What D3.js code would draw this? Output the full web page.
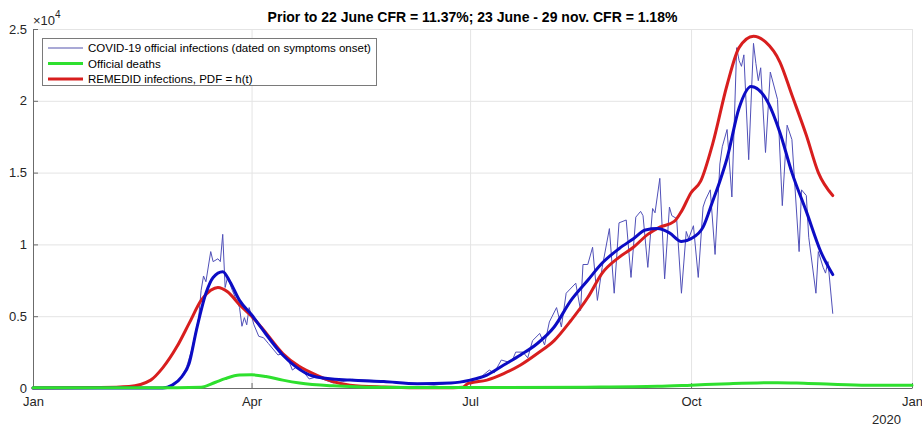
<!DOCTYPE html>
<html>
<head>
<meta charset="utf-8">
<script src="https://cdn.jsdelivr.net/npm/d3@7"></script>
<style>
  body { margin: 0; background: #fff; }
  svg { display: block; font-family: "Liberation Sans", Arial, sans-serif; }
</style>
</head>
<body>
<figure id="chart" style="margin:0"></figure>
<script>
// ---- data (day = days since 1 Jan 2020) ----
const tickDays = [0, 91, 182, 274, 366];
const tickLabels = ["Jan", "Apr", "Jul", "Oct", "Jan"];
const yTicks = [0, 5000, 10000, 15000, 20000, 25000];
const yTickLabels = ["0", "0.5", "1", "1.5", "2", "2.5"];

// COVID-19 official infections (daily, thin line)
const infDays = [52, 55, 58, 61, 64, 66, 69, 70, 71, 72, 74, 75, 77, 78, 79, 80, 81, 83, 86, 87, 88, 89, 90, 92, 94, 96, 98,
  102, 104, 106, 108, 110, 112, 115, 118, 125, 129, 133, 139, 146, 148, 153, 160, 167, 174, 179, 182, 186, 190, 192, 195,
  198, 200, 201, 204, 206, 208, 211, 213, 215, 218, 220, 222, 226, 228, 229, 231, 233, 235, 237, 240, 242, 244, 247, 249,
  251, 253, 254, 256, 258, 259, 261, 263, 265, 266, 268, 270, 272, 273, 275, 277, 279, 280, 282, 284, 286, 287, 289, 291,
  293, 294, 295, 296, 298, 300, 301, 302, 303, 305, 307, 310, 312, 314, 316, 319, 320, 322, 323, 326, 327, 329, 330, 331, 333];
const infValues = [0, 50, 200, 500, 1500, 2600, 4900, 6800, 7800, 7400, 9500, 8800, 9000, 8800, 10700, 7000, 7700, 6800, 5600, 4300, 4900, 4400, 5600, 4400, 3600, 3500, 3100,
  2300, 2400, 2100, 1250, 1500, 1250, 630, 770, 350, 450, 600, 550, 500, 400, 350, 300, 200, 350, 400, 550, 700, 1250, 1050, 1950,
  1800, 2100, 2500, 2500, 2100, 3300, 3800, 3000, 4600, 5600, 4250, 6600, 7300, 5400, 8600, 8600, 9800, 6100, 8400, 11100, 6600, 11500, 11700, 7700,
  11900, 12300, 12000, 8400, 12500, 12200, 14600, 7600, 12600, 12000, 11800, 6600, 10900, 10400, 11300, 7700, 12600, 13100, 13800, 9300, 15600, 16800, 18000, 13300,
  23700, 22800, 22400, 23200, 15900, 24000, 22600, 21400, 22300, 16400, 22000, 20100, 12700, 18300, 17300, 9500, 13800, 13400, 10500, 6600, 9500, 8400, 8000, 8800, 5200];

// smoothed official infections (thick blue)
const smoothDays = [0, 54, 58, 62, 65, 68, 72, 75, 79, 82, 86, 91, 95, 104, 118, 132, 146, 160, 174, 182, 189, 196, 203, 210, 217, 224,
  231, 237, 244, 250, 255, 260, 265, 270, 274, 279, 283, 286, 289, 294, 299, 306, 311, 316, 322, 328, 333];
const smoothValues = [0, 0, 200, 800, 1700, 4000, 6600, 7700, 8100, 7400, 6100, 5100, 4200, 2300, 770, 550, 450, 300, 350, 550, 900, 1600, 2300, 3100, 4250, 6100,
  7500, 8700, 9700, 10400, 11000, 11100, 10800, 10200, 10400, 11200, 13000, 14400, 16000, 19500, 21000, 19900, 17800, 15000, 12300, 9500, 7900];

// REMEDID infections, PDF = h(t)
const remedidDays = [0, 28, 40, 49, 54, 60, 65, 70, 74, 77, 81, 86, 91, 95, 104, 118, 132, 146, 160, 175, 179, 181, 182, 189, 196, 203,
  210, 217, 224, 231, 237, 244, 250, 256, 261, 267, 270, 274, 278, 283, 289, 294, 300, 305, 311, 316, 322, 327, 333];
const remedidValues = [0, 30, 100, 550, 1400, 2900, 4500, 6100, 6800, 7000, 6700, 5800, 5000, 4250, 2400, 900, 200, 70, 20, 20, 50, 300, 350, 550, 1000, 1600,
  2400, 3300, 4700, 6300, 8000, 9100, 9800, 10700, 11200, 11600, 12300, 13600, 14400, 17000, 21100, 23700, 24500, 24100, 22700, 20400, 17600, 15000, 13400];

// Official deaths
const deathDays = [0, 60, 70, 76, 80, 86, 91, 97, 104, 111, 125, 139, 160, 190, 230, 260, 274, 290, 310, 321, 345, 366];
const deathValues = [20, 20, 50, 400, 650, 900, 920, 800, 550, 350, 150, 60, 30, 30, 60, 120, 200, 300, 370, 330, 200, 200];

const legendLabels = ["COVID-19 official infections (dated on symptoms onset)", "Official deaths", "REMEDID infections, PDF = h(t)"];

// ---- layout ----
const W = 922, H = 426;
const mLeft = 33, mRight = 912, mTop = 29, mBottom = 388;
const start = new Date(Date.UTC(2020, 0, 1));
const toDate = d => d3.utcDay.offset(start, d);

const x = d3.scaleUtc().domain([start, toDate(366)]).range([mLeft, mRight]);
const y = d3.scaleLinear().domain([0, 25000]).range([mBottom, mTop]);

const svg = d3.select("#chart").append("svg")
  .attr("width", W).attr("height", H);

// grid
svg.append("g")
  .attr("transform", `translate(0,${mBottom})`)
  .call(d3.axisBottom(x).tickValues(tickDays.map(toDate)).tickSize(-(mBottom - mTop)).tickFormat(""))
  .call(g => g.select(".domain").remove())
  .selectAll("line").attr("stroke", "#e4e4e4");
svg.append("g")
  .attr("transform", `translate(${mLeft},0)`)
  .call(d3.axisLeft(y).tickValues(yTicks).tickSize(-(mRight - mLeft)).tickFormat(""))
  .call(g => g.select(".domain").remove())
  .selectAll("line").attr("stroke", "#e4e4e4");

// axes
const xAxis = svg.append("g")
  .attr("transform", `translate(0,${mBottom})`)
  .call(d3.axisBottom(x).tickValues(tickDays.map(toDate)).tickFormat((d, i) => tickLabels[i])
    .tickSizeInner(-5).tickSizeOuter(0).tickPadding(9));
xAxis.select(".domain").attr("stroke", "#6b6b6b");
xAxis.selectAll("line").attr("stroke", "#6b6b6b");
xAxis.selectAll("text").attr("font-size", 13).attr("fill", "#262626")
  .attr("font-family", "Liberation Sans, Arial, sans-serif");

const yAxis = svg.append("g")
  .attr("transform", `translate(${mLeft},0)`)
  .call(d3.axisLeft(y).tickValues(yTicks).tickFormat((d, i) => yTickLabels[i])
    .tickSizeInner(-5).tickSizeOuter(0).tickPadding(6));
yAxis.select(".domain").attr("stroke", "#6b6b6b");
yAxis.selectAll("line").attr("stroke", "#6b6b6b");
yAxis.selectAll("text").attr("font-size", 13).attr("fill", "#262626")
  .attr("font-family", "Liberation Sans, Arial, sans-serif");

// exponent and year labels
const expo = svg.append("text").attr("x", mLeft).attr("y", 25)
  .attr("font-size", 13).attr("fill", "#262626");
expo.append("tspan").text("\u00d710");
expo.append("tspan").attr("dy", -7).attr("font-size", 10).text("4");

svg.append("text").attr("x", 901).attr("y", 424)
  .attr("text-anchor", "end").attr("font-size", 13).attr("fill", "#262626").text("2020");

// title
svg.append("text").attr("x", (mLeft + mRight) / 2).attr("y", 22)
  .attr("text-anchor", "middle").attr("font-size", 14).attr("font-weight", "bold").attr("fill", "#000")
  .text("Prior to 22 June CFR = 11.37%; 23 June - 29 nov. CFR = 1.18%");

// lines
const mk = (days, vals) => days.map((d, i) => ({ date: toDate(d), v: vals[i] }));
const smoothLine = d3.line().x(d => x(d.date)).y(d => y(d.v)).curve(d3.curveMonotoneX);
const rawLine = d3.line().x(d => x(d.date)).y(d => y(d.v));

const plot = svg.append("g").attr("fill", "none").attr("stroke-linejoin", "round").attr("stroke-linecap", "round");

plot.append("path").datum(mk(infDays, infValues))
  .attr("d", rawLine).attr("stroke", "#5050b8").attr("stroke-width", 1);
plot.append("path").datum(mk(remedidDays, remedidValues))
  .attr("d", smoothLine).attr("stroke", "#d81e1e").attr("stroke-width", 3);
plot.append("path").datum(mk(smoothDays, smoothValues))
  .attr("d", smoothLine).attr("stroke", "#0c0cc4").attr("stroke-width", 3);
plot.append("path").datum(mk(deathDays, deathValues))
  .attr("d", smoothLine).attr("stroke", "#2ee02e").attr("stroke-width", 3);

// legend
const legend = svg.append("g");
legend.append("rect").attr("x", 42.5).attr("y", 38.5).attr("width", 334).attr("height", 47)
  .attr("fill", "#fff").attr("stroke", "#7a7a7a");
const legendStyles = [
  { color: "#8c8cc8", width: 1.5 },
  { color: "#2ee02e", width: 3 },
  { color: "#d81e1e", width: 3 }
];
legendLabels.forEach((lab, i) => {
  const ly = 48 + i * 15.5;
  legend.append("line").attr("x1", 48).attr("x2", 83).attr("y1", ly).attr("y2", ly)
    .attr("stroke", legendStyles[i].color).attr("stroke-width", legendStyles[i].width);
  legend.append("text").attr("x", 88).attr("y", ly).attr("dy", "0.35em")
    .attr("font-size", 11.5).attr("fill", "#000").text(lab);
});
</script>
</body>
</html>
